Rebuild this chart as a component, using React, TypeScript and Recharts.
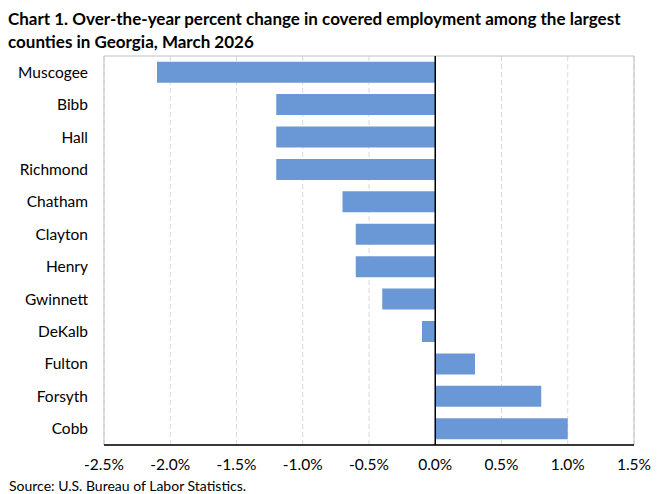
import React from "react";
import { BarChart, Bar, XAxis, YAxis, CartesianGrid, ReferenceLine, ReferenceArea } from "recharts";

const counties = ["Muscogee", "Bibb", "Hall", "Richmond", "Chatham", "Clayton", "Henry", "Gwinnett", "DeKalb", "Fulton", "Forsyth", "Cobb"];
const changes = [-2.1, -1.2, -1.2, -1.2, -0.7, -0.6, -0.6, -0.4, -0.1, 0.3, 0.8, 1.0];
const xTicks = [-2.5, -2.0, -1.5, -1.0, -0.5, 0.0, 0.5, 1.0, 1.5];
const titleLines = [
  "Chart 1. Over-the-year percent change in covered employment among the largest",
  "counties in Georgia, March 2026",
];
const sourceText = "Source: U.S. Bureau of Labor Statistics.";

const data = counties.map((c, i) => ({ county: c, value: changes[i] }));
const FONT = "Lato, 'Open Sans', sans-serif";

export default function App() {
  return (
    <div style={{ position: "absolute", left: 0, top: 0, width: 660, height: 494, background: "#fff", fontFamily: FONT }}>
      <div style={{ position: "absolute", left: 8, top: 7, fontSize: 17, fontWeight: 700, lineHeight: "23px", color: "#000", whiteSpace: "nowrap" }}>
        {titleLines.map((t, i) => (
          <div key={i}>{t}</div>
        ))}
      </div>
      <BarChart
        width={660}
        height={494}
        data={data}
        layout="vertical"
        margin={{ top: 56, right: 26, bottom: 9, left: 7 }}
        barCategoryGap="17.5%"
        style={{ fontFamily: FONT }}
      >
        <CartesianGrid horizontal={false} stroke="#d9d9d9" strokeDasharray="5 3" />
        <ReferenceArea x1={-2.5} x2={1.5} fill="none" stroke="#bfbfbf" strokeWidth={1} ifOverflow="visible" />
        <XAxis
          type="number"
          domain={[-2.5, 1.5]}
          ticks={xTicks}
          tickFormatter={(v: number) => v.toFixed(1) + "%"}
          tickLine={false}
          axisLine={{ stroke: "#000", strokeWidth: 1.5 }}
          tick={{ fill: "#000", fontSize: 15.5 }}
          tickMargin={8}
          height={40}
          interval={0}
        />
        <YAxis
          type="category"
          dataKey="county"
          width={97}
          axisLine={false}
          tickLine={false}
          tick={{ fill: "#000", fontSize: 15.5 }}
          tickMargin={10}
          interval={0}
        />
        <Bar dataKey="value" fill="#6A98D6" isAnimationActive={false} />
        <ReferenceLine x={0} stroke="#000" strokeWidth={1.5} />
      </BarChart>
      <div style={{ position: "absolute", left: 9, top: 477, fontSize: 14, color: "#000", whiteSpace: "nowrap" }}>
        {sourceText}
      </div>
    </div>
  );
}
